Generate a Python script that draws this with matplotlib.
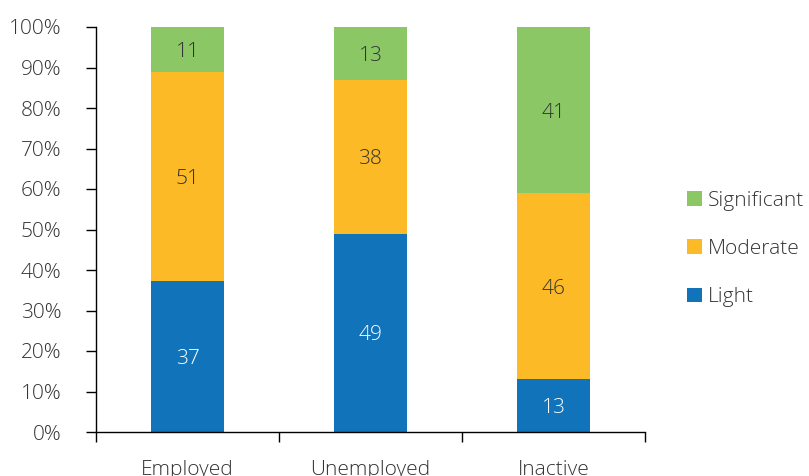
import matplotlib
matplotlib.use("Agg")
import matplotlib.pyplot as plt
import numpy as np
from matplotlib.patches import Patch

plt.rcParams['font.family'] = ['Open Sans', 'DejaVu Sans']
plt.rcParams['font.weight'] = 300

categories = ["Employed", "Unemployed", "Inactive"]
light = [37, 49, 13]
moderate = [51, 38, 46]
significant = [11, 13, 41]
series_names = ["Light", "Moderate", "Significant"]
colors = ["#1173BA", "#FDBA27", "#8BC764"]
text_colors = ["white", "#333333", "#333333"]
yticks = [0, 10, 20, 30, 40, 50, 60, 70, 80, 90, 100]

FS = 15

data = np.array([light, moderate, significant], dtype=float)
shares = data / data.sum(axis=0) * 100

fig = plt.figure(figsize=(8.09, 4.76), dpi=100)
ax = fig.add_axes([96 / 809, (476 - 432) / 476, (645 - 96) / 809, (432 - 27) / 476])

x = np.arange(len(categories))
bottom = np.zeros(len(categories))
handles = []
for i, name in enumerate(series_names):
    ax.bar(x, shares[i], bottom=bottom, width=0.40, color=colors[i], linewidth=0)
    for j in range(len(categories)):
        ax.text(x[j], bottom[j] + shares[i][j] / 2, f"{int(data[i][j])}",
                ha="center", va="center_baseline", fontsize=FS, color=text_colors[i])
    bottom += shares[i]
    handles.append(Patch(facecolor=colors[i], edgecolor="none", label=name))

ax.set_xlim(-0.5, len(categories) - 0.5)
ax.set_ylim(0, 100)
ax.set_yticks(yticks)
ax.set_yticklabels([f"{t}%" for t in yticks], fontsize=FS, color="#333333")
ax.set_xticks(np.arange(-0.5, len(categories)), minor=False)
ax.set_xticklabels([])
ax.set_xticks(x, minor=True)
ax.set_xticklabels(categories, minor=True, fontsize=FS, color="#333333")
ax.tick_params(axis="x", which="major", direction="out", length=7, width=1, color="black")
ax.tick_params(axis="x", which="minor", length=0, pad=20)
ax.tick_params(axis="y", direction="out", length=7, width=1, color="black", pad=18)

for s in ["top", "right"]:
    ax.spines[s].set_visible(False)
for s in ["left", "bottom"]:
    ax.spines[s].set_color("black")
    ax.spines[s].set_linewidth(1)

leg = fig.legend(handles=handles[::-1], loc="center left",
                 bbox_to_anchor=(687 / 809, 1 - 249 / 476), frameon=False,
                 fontsize=FS, handlelength=0.72, handleheight=0.72,
                 handletextpad=0.3, labelspacing=1.36, borderpad=0,
                 borderaxespad=0)
for t in leg.get_texts():
    t.set_color("#333333")

fig.savefig("out.png", dpi=100)
